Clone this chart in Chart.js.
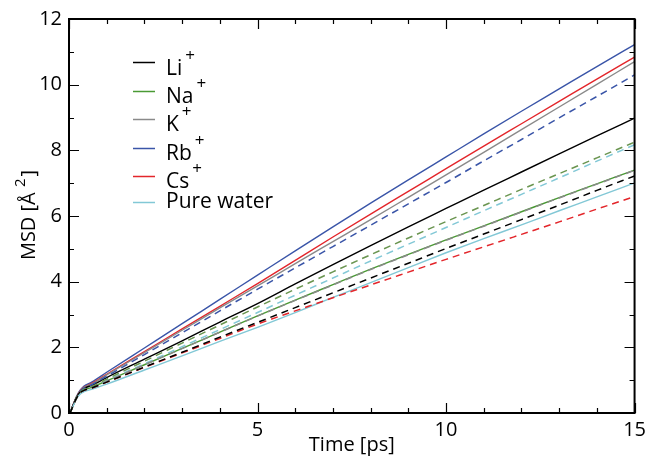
<!DOCTYPE html>
<html>
<head>
<meta charset="utf-8">
<script src="https://cdn.jsdelivr.net/npm/chart.js@4"></script>
<style>
  html, body { margin: 0; padding: 0; background: #fff; }
  #wrap { width: 651px; height: 461px; }
</style>
</head>
<body>
<div id="wrap"><canvas id="msdChart" width="651" height="461"></canvas></div>
<script>
/* ===== DATA ===== */
const times = [0, 0.05, 0.1, 0.2, 0.3, 0.4, 0.6, 1, 2, 3, 4, 5, 6, 7, 8, 9, 10, 11, 12, 13, 14, 15];

// solid lines
const liSolid  = [0, 0.07, 0.21, 0.48, 0.65, 0.75, 0.84, 1.08, 1.64, 2.20, 2.77, 3.33, 3.93, 4.52, 5.10, 5.67, 6.23, 6.79, 7.34, 7.89, 8.44, 8.98];
const naSolid  = [0, 0.06, 0.20, 0.46, 0.63, 0.70, 0.78, 0.98, 1.47, 1.97, 2.46, 2.96, 3.44, 3.91, 4.38, 4.83, 5.27, 5.70, 6.13, 6.56, 6.98, 7.40];
const kSolid   = [0, 0.07, 0.22, 0.49, 0.67, 0.78, 0.88, 1.16, 1.84, 2.52, 3.20, 3.87, 4.55, 5.22, 5.89, 6.57, 7.25, 7.94, 8.63, 9.32, 10.01, 10.70];
const rbSolid  = [0, 0.07, 0.22, 0.50, 0.70, 0.82, 0.94, 1.24, 1.98, 2.72, 3.46, 4.20, 4.94, 5.67, 6.39, 7.10, 7.80, 8.50, 9.19, 9.87, 10.55, 11.22];
const csSolid  = [0, 0.07, 0.22, 0.49, 0.68, 0.79, 0.90, 1.18, 1.87, 2.56, 3.25, 3.94, 4.65, 5.36, 6.06, 6.75, 7.44, 8.13, 8.81, 9.49, 10.17, 10.84];
const waterSolid = [0, 0.06, 0.19, 0.43, 0.58, 0.65, 0.72, 0.88, 1.31, 1.74, 2.18, 2.61, 3.06, 3.52, 3.97, 4.43, 4.88, 5.31, 5.73, 6.16, 6.58, 7.01];

// dashed lines
const liDashed = [0, 0.06, 0.20, 0.45, 0.62, 0.69, 0.76, 0.94, 1.40, 1.85, 2.31, 2.76, 3.21, 3.66, 4.11, 4.56, 5.01, 5.45, 5.89, 6.33, 6.78, 7.22];
const naDashed = [0, 0.06, 0.21, 0.47, 0.64, 0.72, 0.80, 1.03, 1.58, 2.13, 2.68, 3.23, 3.77, 4.30, 4.82, 5.33, 5.83, 6.32, 6.81, 7.29, 7.77, 8.25];
const kDashed  = [0, 0.06, 0.20, 0.46, 0.62, 0.70, 0.77, 0.97, 1.47, 1.96, 2.46, 2.95, 3.43, 3.90, 4.37, 4.82, 5.26, 5.69, 6.12, 6.55, 6.97, 7.39];
const rbDashed = [0, 0.07, 0.21, 0.48, 0.66, 0.76, 0.86, 1.12, 1.78, 2.44, 3.11, 3.77, 4.42, 5.07, 5.72, 6.37, 7.02, 7.68, 8.33, 8.99, 9.64, 10.30];
const csDashed = [0, 0.06, 0.20, 0.45, 0.62, 0.69, 0.76, 0.94, 1.39, 1.83, 2.27, 2.71, 3.11, 3.51, 3.90, 4.29, 4.68, 5.06, 5.44, 5.82, 6.21, 6.59];
const waterDashed = [0, 0.06, 0.20, 0.46, 0.63, 0.71, 0.78, 0.99, 1.50, 2.02, 2.54, 3.06, 3.59, 4.11, 4.63, 5.14, 5.65, 6.16, 6.66, 7.16, 7.67, 8.17];

const legendLabels = ['Li', 'Na', 'K', 'Rb', 'Cs', 'Pure water'];
const legendSup    = ['+', '+', '+', '+', '+', ''];
const xTickLabels  = [0, 5, 10, 15];
const yTickLabels  = [0, 2, 4, 6, 8, 10, 12];

/* ===== COLOURS ===== */
const BLACK = '#000000';
const GREEN = '#4a9a34';
const GREEN_D = '#6a9550';
const GRAY = '#8a8a8a';
const BLUE = '#3a55a8';
const RED = '#e3262b';
const CYAN = '#82c8d6';
const FONT = "'Open Sans', 'DejaVu Sans', sans-serif";

const toPts = arr => arr.map((v, i) => ({ x: times[i], y: v }));
const line = (data, color, dashed) => ({
  data: toPts(data),
  borderColor: color,
  borderWidth: dashed ? 1.5 : 1.4,
  borderDash: dashed ? [7, 5] : [],
  pointRadius: 0,
  fill: false,
  cubicInterpolationMode: 'monotone'
});

/* ===== FRAME, INWARD TICKS, TITLES, LEGEND ===== */
const decor = {
  id: 'decor',
  afterDraw(chart) {
    const { ctx, chartArea: a, scales: { x, y } } = chart;
    ctx.save();
    ctx.strokeStyle = '#000';
    ctx.lineWidth = 1.2;
    ctx.beginPath();
    for (let t = 0; t <= 15; t++) {
      const px = Math.round(x.getPixelForValue(t)) + 0.5;
      const len = t % 5 === 0 ? 10 : 5;
      ctx.moveTo(px, a.bottom); ctx.lineTo(px, a.bottom - len);
      ctx.moveTo(px, a.top); ctx.lineTo(px, a.top + len);
    }
    for (let v = 0; v <= 12; v++) {
      const py = Math.round(y.getPixelForValue(v)) + 0.5;
      const len = v % 2 === 0 ? 10 : 5;
      ctx.moveTo(a.left, py); ctx.lineTo(a.left + len, py);
      ctx.moveTo(a.right, py); ctx.lineTo(a.right - len, py);
    }
    ctx.stroke();
    ctx.lineWidth = 2;
    ctx.strokeRect(a.left, a.top, a.right - a.left, a.bottom - a.top);

    // axis titles
    ctx.fillStyle = '#000';
    ctx.font = '20px ' + FONT;
    ctx.textAlign = 'center';
    ctx.textBaseline = 'alphabetic';
    ctx.fillText('Time [ps]', (a.left + a.right) / 2, 451);

    ctx.save();
    ctx.translate(35, (a.top + a.bottom) / 2);
    ctx.rotate(-Math.PI / 2);
    ctx.textAlign = 'left';
    const p1 = 'MSD [Å ', p3 = ']';
    ctx.font = '20px ' + FONT;
    const w1 = ctx.measureText(p1).width;
    ctx.font = '15px ' + FONT;
    const w2 = ctx.measureText('2').width;
    ctx.font = '20px ' + FONT;
    const w3 = ctx.measureText(p3).width;
    let sx = -(w1 + w2 + w3) / 2;
    ctx.fillText(p1, sx, 0);
    ctx.font = '15px ' + FONT;
    ctx.fillText('2', sx + w1, -10);
    ctx.font = '20px ' + FONT;
    ctx.fillText(p3, sx + w1 + w2 + 2, 0);
    ctx.restore();

    // legend (solid series only)
    const colors = [BLACK, GREEN, GRAY, BLUE, RED, CYAN];
    const lineY = [62, 91, 119, 148, 176, 202];
    const baseY = [75, 103, 131, 160, 188, 208];
    ctx.textAlign = 'left';
    legendLabels.forEach((lab, i) => {
      ctx.strokeStyle = colors[i];
      ctx.lineWidth = 1.5;
      ctx.beginPath();
      ctx.moveTo(133, lineY[i] + 0.5);
      ctx.lineTo(155, lineY[i] + 0.5);
      ctx.stroke();
      ctx.fillStyle = '#000';
      ctx.font = '21px ' + FONT;
      ctx.fillText(lab, 166, baseY[i]);
      if (legendSup[i]) {
        const w = ctx.measureText(lab).width;
        ctx.font = '17px ' + FONT;
        ctx.fillText(legendSup[i], 166 + w + 3, baseY[i] - 14);
      }
    });
    ctx.restore();
  }
};

/* ===== CHART ===== */
new Chart(document.getElementById('msdChart'), {
  type: 'line',
  data: {
    datasets: [
      line(liDashed, BLACK, true),
      line(naDashed, GREEN_D, true),
      line(kDashed, GRAY, true),
      line(rbDashed, BLUE, true),
      line(csDashed, RED, true),
      line(waterDashed, CYAN, true),
      line(waterSolid, CYAN, false),
      line(liSolid, BLACK, false),
      line(kSolid, GRAY, false),
      line(csSolid, RED, false),
      line(rbSolid, BLUE, false),
      line(naSolid, GREEN, false)
    ]
  },
  options: {
    responsive: false,
    animation: false,
    events: [],
    layout: { padding: { top: 16, right: 13, left: 0, bottom: 0 } },
    plugins: { legend: { display: false }, tooltip: { enabled: false } },
    scales: {
      x: {
        type: 'linear',
        min: 0,
        max: 15,
        afterFit: s => { s.height = 48; },
        afterBuildTicks: s => { s.ticks = xTickLabels.map(v => ({ value: v })); },
        grid: { display: false, drawTicks: false },
        border: { display: false },
        ticks: { padding: 5, color: '#000', font: { family: FONT, size: 20 }, maxRotation: 0 }
      },
      y: {
        min: 0,
        max: 12,
        afterFit: s => { s.width = 69; },
        afterBuildTicks: s => { s.ticks = yTickLabels.map(v => ({ value: v })); },
        grid: { display: false, drawTicks: false },
        border: { display: false },
        ticks: { padding: 7, color: '#000', font: { family: FONT, size: 20 } }
      }
    }
  },
  plugins: [decor]
});
</script>
</body>
</html>
